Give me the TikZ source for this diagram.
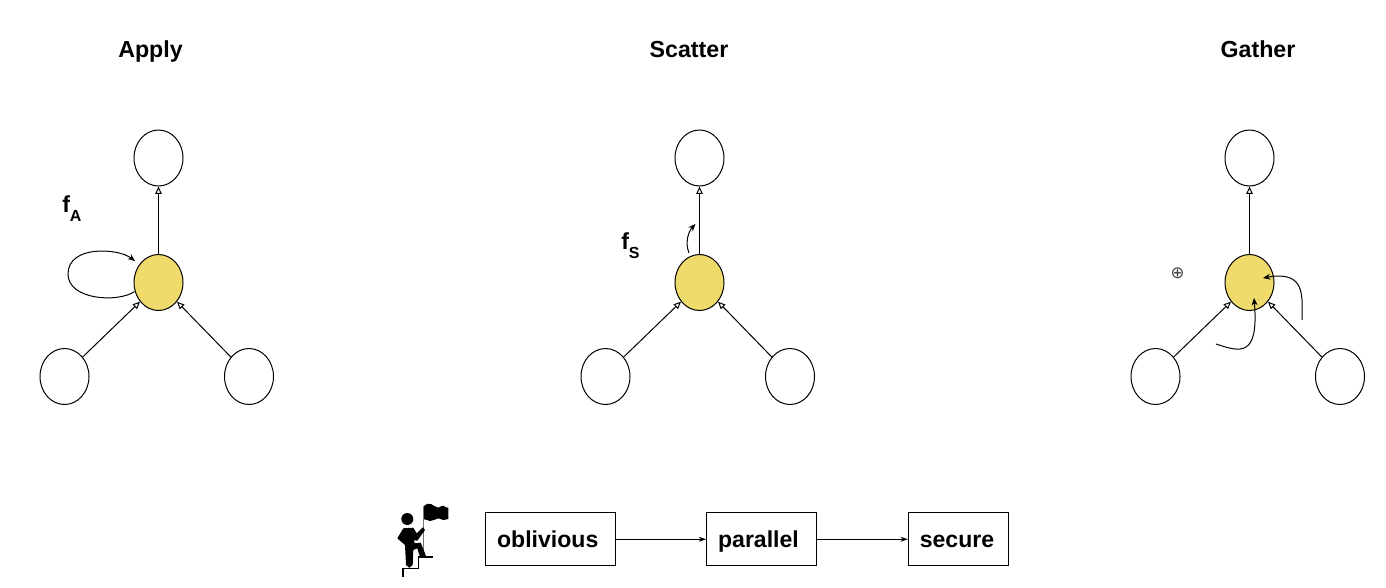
\documentclass[tikz,border=0pt]{standalone}
\usepackage{fontspec}
\setmainfont{Liberation Sans}
\newfontfamily\symfont{DejaVu Sans}
\usetikzlibrary{shapes.geometric,arrows.meta}
\definecolor{corefill}{HTML}{EEDB6C}
\tikzset{
  vertex/.style={draw=black,fill=white,ellipse,inner sep=0pt,minimum width=36.75pt,minimum height=42pt,line width=0.75pt},
  core/.style={vertex,fill=corefill},
  edgeopen/.style={line width=0.75pt,-{Triangle[open,length=5.5pt,width=4.8pt,fill=white]}},
  curly/.style={line width=0.75pt,-{Stealth[length=5.5pt,width=4.5pt]}},
  heading/.style={font=\bfseries\fontsize{17.4}{20}\selectfont,inner sep=0pt,anchor=base},
  label/.style={font=\bfseries\fontsize{17.4}{20}\selectfont,inner sep=0pt,anchor=base west},
  stepbox/.style={draw=black,line width=0.75pt,rectangle,minimum height=39.4pt,inner xsep=8.6pt,inner ysep=0pt,align=left,text height=15pt,text depth=2pt,font=\bfseries\fontsize{17.3}{20}\selectfont},
  flow/.style={line width=0.75pt,-{Stealth[length=5.5pt,width=3.6pt]}},
  icon/.style={fill=black,draw=none}
}
\newcommand{\subsc}[1]{\raisebox{-6.75pt}{\fontsize{12}{14}\selectfont #1}}
\begin{document}
\begin{tikzpicture}[x=0.75pt,y=-0.75pt]
\useasboundingbox (0,0) rectangle (1386,587);
% headings
\node[heading] (h1) at (150.5,57.3) {Apply};
\node[heading] (h2) at (689,57.3) {Scatter};
\node[heading] (h3) at (1258,57.3) {Gather};
% Apply
\node[vertex] (a1) at (158.5,158) {};
\node[core]   (a2) at (158.5,282.5) {};
\node[vertex] (a3) at (64.5,376.5) {};
\node[vertex] (a4) at (249,376.5) {};
\draw[edgeopen] (a2.north) -- (a1.south);
\draw[edgeopen] (a3.47) -- (a2.226);
\draw[edgeopen] (a4.133) -- (a2.314);
\coordinate (a5) at (135,261);
\coordinate (a6) at (134.5,291.5);
\draw[curly] (a6) .. controls (118,303) and (68,300) .. (68,274) .. controls (68,245) and (118,248) .. (a5);
\node[label] (fa) at (62,212.5) {f\subsc{A}};
% Scatter
\node[vertex] (s1) at (699.5,158) {};
\node[core]   (s2) at (699.5,282.5) {};
\node[vertex] (s3) at (605.5,376.5) {};
\node[vertex] (s4) at (790,376.5) {};
\draw[edgeopen] (s2.north) -- (s1.south);
\draw[edgeopen] (s3.47) -- (s2.226);
\draw[edgeopen] (s4.133) -- (s2.314);
\coordinate (s5) at (689,253);
\coordinate (s6) at (695.5,224);
\draw[curly] (s5) .. controls (685,243) and (688,232) .. (s6);
\node[label] (fs) at (621,249) {f\subsc{S}};
% Gather
\node[vertex] (g1) at (1249.5,158) {};
\node[core]   (g2) at (1249.5,282.5) {};
\node[vertex] (g3) at (1155.5,376.5) {};
\node[vertex] (g4) at (1340,376.5) {};
\draw[edgeopen] (g2.north) -- (g1.south);
\draw[edgeopen] (g3.47) -- (g2.226);
\draw[edgeopen] (g4.133) -- (g2.314);
\coordinate (g5) at (1302,320);
\coordinate (g6) at (1263,278);
\draw[curly] (g5) .. controls (1302,298) and (1307,270) .. (g6);
\coordinate (g7) at (1216,344);
\coordinate (g8) at (1254,298);
\draw[curly] (g7) .. controls (1240,352) and (1259,358) .. (g8);
\node[inner sep=0pt,text=black!75,font=\symfont\fontsize{12.5}{13}\selectfont] (op) at (1177.5,273) {⊕};
% flow
\node[stepbox,text width=80.5pt] (b1) at (550.75,539.25) {oblivious};
\node[stepbox,text width=65.5pt] (b2) at (761.75,539.25) {parallel};
\node[stepbox,text width=58pt] (b3) at (958.5,539.25) {secure};
\draw[flow] (b1) -- (b2);
\draw[flow] (b2) -- (b3);
% climber icon
\fill[icon] (407.3,519) circle (6);
\fill[icon] (423.3,506.7) .. controls (426,504) and (429,503) .. (431,504) .. controls (434,505) and (436,508) .. (438.3,507.7) .. controls (441,507) and (442,505) .. (443.3,505.7) .. controls (445,507) and (446,507.7) .. (448.3,507.7) -- (448.3,519) .. controls (446,519) and (445,520) .. (443.3,520) .. controls (441,520) and (440,518) .. (438.3,518.3) .. controls (435,519) and (433,521) .. (430,521) .. controls (428,521) and (426,519) .. (423.3,519) -- cycle;
\draw[line width=0.8pt,black!55] (423.3,507) -- (423.3,553);
\fill[icon] (403.3,528.3) -- (413.3,527.7) -- (416.7,533.3) -- (422.7,527.3) -- (425,530) -- (417.3,540.7) -- (414.3,540) -- (414.3,543.3) -- (420.7,542.7) -- (425,553.3) -- (426,556.7) -- (420,556.7) -- (417.3,548.3) -- (413.3,550) -- (412.7,565) -- (409.3,567.7) -- (406,565) -- (405,545) -- (397.3,538.3) -- cycle;
\draw[line width=1.2pt,black] (433,556.7) -- (418.3,556.7) -- (418.3,568.3) -- (402.7,568.3) -- (402.7,577);
\end{tikzpicture}
\end{document}
